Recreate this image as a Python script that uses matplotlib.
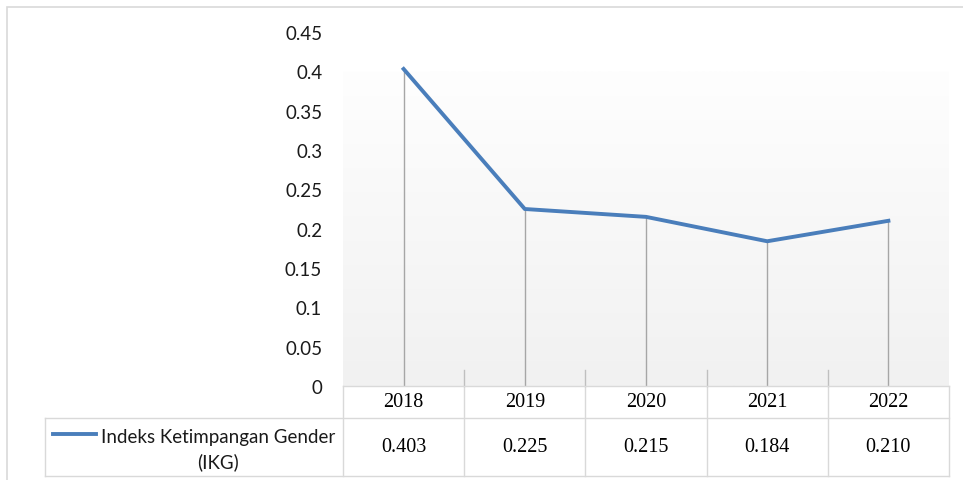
import numpy as np
import matplotlib
matplotlib.use("Agg")
import matplotlib.pyplot as plt
from matplotlib.patches import Rectangle
from matplotlib.lines import Line2D
from matplotlib.colors import LinearSegmentedColormap

years = ["2018", "2019", "2020", "2021", "2022"]
ikg = [0.403, 0.225, 0.215, 0.184, 0.210]
value_labels = ["0.403", "0.225", "0.215", "0.184", "0.210"]
series_name = "Indeks Ketimpangan Gender\n(IKG)"
yticks = [0, 0.05, 0.1, 0.15, 0.2, 0.25, 0.3, 0.35, 0.4, 0.45]
ytick_labels = ["0", "0.05", "0.1", "0.15", "0.2", "0.25", "0.3", "0.35", "0.4", "0.45"]

W, H = 963, 481
fig = plt.figure(figsize=(W / 100, H / 100), dpi=100)
fig.patch.set_facecolor("white")

# outer chart border
fig.add_artist(Rectangle((7 / W, -0.01), (W - 7) / W + 0.01, 1 - 8 / H + 0.01,
                         transform=fig.transFigure, fill=False,
                         edgecolor="#d9d9d9", lw=1.2))

left, right, top, bottom = 343, 949, 33, 387
ax = fig.add_axes([left / W, 1 - bottom / H, (right - left) / W, (bottom - top) / H])
x = np.arange(len(years))

# subtle gradient plot area
grad = np.linspace(0, 1, 256).reshape(-1, 1)
cmap = LinearSegmentedColormap.from_list("g", ["#f1f1f1", "#fefefe"])
ax.imshow(grad, extent=(-0.5, len(years) - 0.5, 0, 0.4), origin="lower",
          aspect="auto", cmap=cmap, zorder=0)
ax.set_xlim(-0.5, len(years) - 0.5)
ax.set_ylim(0, 0.45)

for s in ax.spines.values():
    s.set_visible(False)

# drop lines and series
ax.vlines(x, 0, ikg, colors="#a6a6a6", lw=1, zorder=2)
ax.plot(x, ikg, color="#4a7ebb", lw=2.8, zorder=3, solid_joinstyle="round")

ax.set_yticks(yticks)
ax.set_yticklabels(ytick_labels, fontfamily="Lato", fontsize=13.5, color="#1a1a1a")
ax.tick_params(axis="y", length=0, pad=15)
ax.set_xticks([])

# data table below the axis
tr = ax.get_xaxis_transform()
ph = bottom - top
row1_top = 0.0
row1_bot = -(419 - bottom) / ph
row2_bot = -(477 - bottom) / ph
grid_c = "#d9d9d9"
for i, (yr, v) in enumerate(zip(years, value_labels)):
    ax.text(i, -(403 - bottom) / ph, yr, transform=tr, ha="center", va="center",
            fontfamily="Liberation Serif", fontsize=14.5, clip_on=False)
    ax.text(i, -(448 - bottom) / ph, v, transform=tr, ha="center", va="center",
            fontfamily="Liberation Serif", fontsize=14.5, clip_on=False)
for b in np.arange(len(years) + 1) - 0.5:
    ax.add_line(Line2D([b, b], [row1_top, row2_bot], transform=tr, color=grid_c,
                       lw=1, clip_on=False))
for b in np.arange(1, len(years)) - 0.5:
    ax.add_line(Line2D([b, b], [0, 0.045], transform=tr, color="#bfbfbf",
                       lw=1, clip_on=False))
ax.add_line(Line2D([-0.5, len(years) - 0.5], [row1_top, row1_top], transform=tr,
                   color=grid_c, lw=1, clip_on=False))
unit = (right - left) / len(years)
leg_left = -0.5 - (left - 45) / unit
for yy in (row1_bot, row2_bot):
    ax.add_line(Line2D([leg_left, len(years) - 0.5], [yy, yy], transform=tr,
                       color=grid_c, lw=1, clip_on=False))
ax.add_line(Line2D([leg_left, leg_left], [row1_bot, row2_bot], transform=tr,
                   color=grid_c, lw=1, clip_on=False))

# legend key inside table
k0 = -0.5 - (left - 53) / unit
k1 = -0.5 - (left - 96) / unit
ky = -(435 - bottom) / ph
ax.add_line(Line2D([k0, k1], [ky, ky], transform=tr, color="#4a7ebb", lw=2.8,
                   clip_on=False))
ax.text(-0.5 - (left - 218) / unit, -(450 - bottom) / ph, series_name,
        transform=tr, ha="center", va="center", multialignment="center",
        fontfamily="Lato", fontsize=13.5, linespacing=1.5, color="#1a1a1a",
        clip_on=False)

fig.savefig("out.png", dpi=100)
